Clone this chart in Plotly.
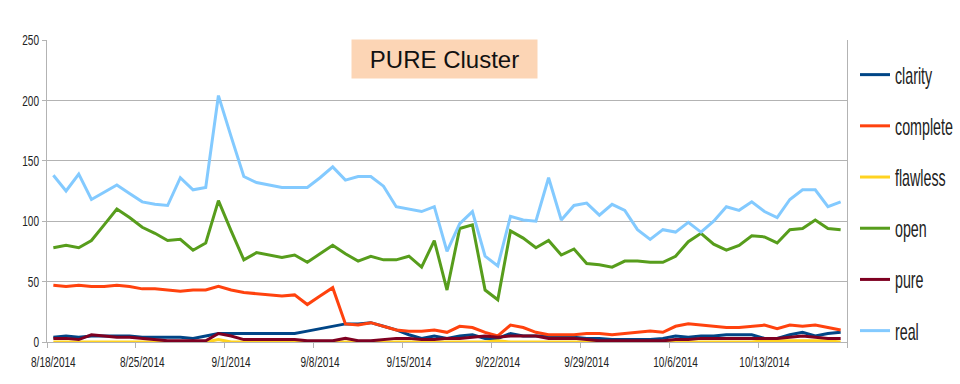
import pandas as pd
import plotly.graph_objects as go

# ---- data (daily values, 8/18/2014 .. 10/19/2014) ----
start_date = "2014-08-18"
end_date = "2014-10-19"
dates = pd.date_range(start=start_date, end=end_date, freq="D")

clarity = [4, 5, 4, 5, 5, 5, 5, 4, 4, 4,
           4, 3, 5, 7, 7, 7, 7, 7, 7, 7,
           9, 11, 13, 15, 15, 16, 13, 10, 6, 3,
           5, 3, 5, 6, 3, 3, 7, 5, 5, 5,
           4, 4, 3, 3, 2, 2, 2, 2, 3, 5,
           4, 5, 5, 6, 6, 6, 3, 3, 6, 8,
           5, 7, 8]
complete = [47, 46, 47, 46, 46, 47, 46, 44, 44, 43,
            42, 43, 43, 46, 43, 41, 40, 39, 38, 39,
            31, 38, 45, 15, 14, 16, 13, 10, 9, 9,
            10, 8, 13, 12, 8, 5, 14, 12, 8, 6,
            6, 6, 7, 7, 6, 7, 8, 9, 8, 13,
            15, 14, 13, 12, 12, 13, 14, 11, 14, 13,
            14, 12, 10]
flawless = [0, 0, 0, 0, 0, 0, 0, 0, 0, 0,
            0, 0, 0, 2, 0, 0, 0, 0, 0, 0,
            0, 0, 0, 0, 0, 0, 0, 0, 0, 0,
            0, 0, 0, 0, 0, 1, 0, 0, 0, 0,
            0, 0, 0, 0, 0, 0, 0, 0, 0, 0,
            0, 0, 0, 0, 0, 0, 1, 1, 1, 1,
            1, 1, 0]
open_ = [78, 80, 78, 84, 97, 110, 103, 95, 90, 84,
         85, 76, 82, 117, 92, 68, 74, 72, 70, 72,
         66, 73, 80, 73, 67, 71, 68, 68, 71, 62,
         84, 43, 94, 97, 43, 35, 92, 86, 78, 84,
         72, 77, 65, 64, 62, 67, 67, 66, 66, 71,
         83, 90, 81, 76, 80, 88, 87, 82, 93, 94,
         101, 94, 93]
pure = [3, 3, 2, 6, 5, 4, 4, 3, 2, 1,
        1, 1, 1, 7, 5, 2, 2, 2, 2, 2,
        1, 1, 1, 3, 1, 1, 2, 3, 3, 2,
        2, 3, 3, 4, 5, 4, 5, 5, 5, 3,
        3, 3, 2, 1, 1, 1, 1, 1, 1, 2,
        2, 3, 3, 3, 3, 3, 3, 3, 4, 5,
        4, 3, 3]
real = [138, 125, 139, 118, 124, 130, 123, 116, 114, 113,
        136, 126, 128, 204, 170, 137, 132, 130, 128, 128,
        128, 136, 145, 134, 137, 137, 129, 112, 110, 108,
        112, 75, 98, 108, 71, 63, 104, 101, 100, 136,
        101, 113, 115, 105, 114, 109, 93, 85, 93, 91,
        99, 91, 100, 112, 109, 116, 108, 103, 118, 126,
        126, 112, 116]

series_names = ["clarity", "complete", "flawless", "open", "pure", "real"]
series_values = [clarity, complete, flawless, open_, pure, real]
series_colors = ["#004586", "#FF420E", "#FFD320", "#579D1C", "#7E0021", "#83CAFF"]

tick_dates = ["2014-08-18", "2014-08-25", "2014-09-01", "2014-09-08",
              "2014-09-15", "2014-09-22", "2014-09-29", "2014-10-06", "2014-10-13"]
tick_labels = ["8/18/2014", "8/25/2014", "9/1/2014", "9/8/2014",
               "9/15/2014", "9/22/2014", "9/29/2014", "10/6/2014", "10/13/2014"]
y_ticks = [0, 50, 100, 150, 200, 250]

title_text = "PURE Cluster"

SANS = "Liberation Sans, Arial, sans-serif"

fig = go.Figure()
for name, vals, col in zip(series_names, series_values, series_colors):
    fig.add_trace(go.Scatter(
        x=dates, y=vals, name=name, mode="lines",
        line=dict(color=col, width=3),
        legendgroup=name,
    ))

fig.update_layout(
    width=960, height=384,
    margin=dict(l=47, r=113, t=40, b=42, autoexpand=False),
    paper_bgcolor="white", plot_bgcolor="white",
    showlegend=True,
    legend=dict(
        x=1.01, xanchor="left", y=0.937, yanchor="top",
        font=dict(family=SANS, size=14, color="#222222"),
        tracegroupgap=30,
        bgcolor="rgba(0,0,0,0)",
        itemwidth=30,
    ),
    annotations=[dict(
        text=title_text, xref="paper", yref="paper",
        x=0.497, y=0.937, xanchor="center", yanchor="middle",
        showarrow=False, bgcolor="#FCD5B5", width=177, height=30, borderpad=4,
        font=dict(family=SANS, size=24, color="#111111"),
    )],
)

fig.update_xaxes(
    type="date", automargin=False,
    range=["2014-08-17 12:00", "2014-10-19 12:00"],
    tickmode="array", tickvals=tick_dates, ticktext=tick_labels,
    ticks="outside", ticklen=6, tickcolor="rgba(0,0,0,0)",
    showgrid=False, zeroline=False,
    showline=True, linecolor="#b3b3b3", linewidth=1,
    tickfont=dict(family=SANS, size=15, color="#222222"),
    minor=dict(ticks="outside", ticklen=5, tickcolor="#b3b3b3",
               tickmode="linear", tick0="2014-08-17 12:00", dtick=7 * 86400000,
               showgrid=False),
)
fig.update_yaxes(
    range=[0, 250], tickmode="array", tickvals=y_ticks, automargin=False,
    ticks="outside", ticklen=4, tickcolor="#b3b3b3",
    showgrid=True, gridcolor="#b3b3b3", gridwidth=1,
    zeroline=False,
    showline=True, linecolor="#b3b3b3", linewidth=1, mirror=True,
    tickfont=dict(family=SANS, size=15, color="#222222"),
)

# Remove the default page margin, and condense the text horizontally
# (the reference glyphs are tall but narrow) with SVG textLength.
post_js = """
document.body.style.margin = '0';
var gd = document.getElementById('{plot_id}');
function squish(sel, f) {
  gd.querySelectorAll(sel).forEach(function (t) {
    var w = t.getComputedTextLength();
    t.setAttribute('textLength', (w * f).toFixed(1));
    t.setAttribute('lengthAdjust', 'spacingAndGlyphs');
  });
}
squish('.xtick text', 0.67);
squish('.ytick text', 0.67);
// legend: 15px text stretched vertically to look like tall, narrow 23px glyphs
gd.querySelectorAll('text.legendtext').forEach(function (t) {
  t.style.fontSize = '15px';
  var w = t.getComputedTextLength() * 23 / 15;
  var sy = 23 / 15;
  t.setAttribute('y', '0');
  t.setAttribute('transform', 'matrix(1,0,0,' + sy.toFixed(4) + ',0,9)');
  t.setAttribute('textLength', (w * 0.62).toFixed(1));
  t.setAttribute('lengthAdjust', 'spacingAndGlyphs');
});
"""

fig.write_html("out.html", post_script=post_js, config={"displayModeBar": False})
